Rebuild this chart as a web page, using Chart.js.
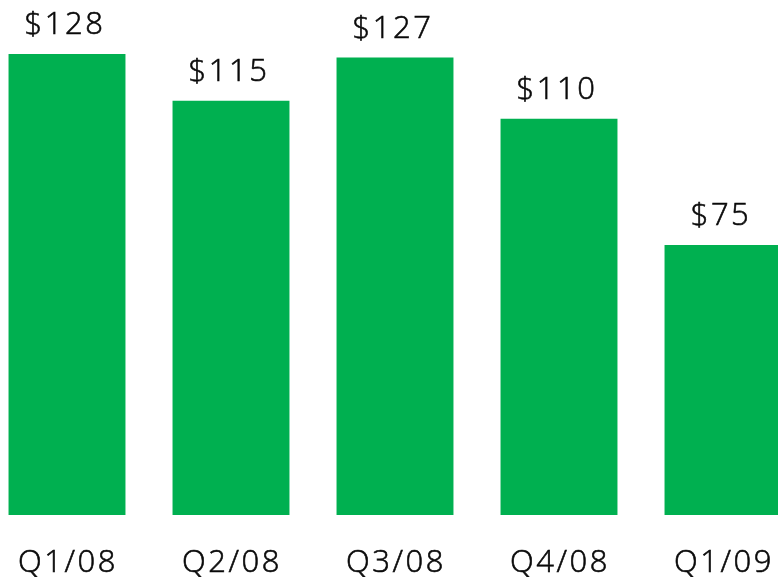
<!DOCTYPE html>
<html>
<head>
<meta charset="utf-8">
<script src="https://cdn.jsdelivr.net/npm/chart.js@4/dist/chart.umd.min.js"></script>
<style>
  html, body { margin: 0; padding: 0; background: #fff; overflow: hidden; }
  #wrap { position: absolute; left: -15px; top: 0; width: 820px; height: 577px; }
</style>
</head>
<body>
<div id="wrap"><canvas id="chart"></canvas></div>
<script>
var quarters = ["Q1/08", "Q2/08", "Q3/08", "Q4/08", "Q1/09"];
var revenue = [128, 115, 127, 110, 75];
var valueLabels = ["$128", "$115", "$127", "$110", "$75"];

// draws the $ labels over bars and the quarter names under them
var labelPlugin = {
    id: 'barLabels',
    afterDatasetsDraw: function(chart) {
        var ctx = chart.ctx;
        var meta = chart.getDatasetMeta(0);
        var xs = chart.scales.x;
        ctx.save();
        ctx.fillStyle = '#0a0a0a';
        ctx.strokeStyle = '#0a0a0a';
        ctx.lineWidth = 0.6;
        ctx.font = '300 31px "Open Sans"';
        ctx.letterSpacing = '2.5px';
        ctx.textAlign = 'center';
        ctx.textBaseline = 'alphabetic';
        meta.data.forEach(function(bar, i) {
            ctx.fillText(valueLabels[i], bar.x - 2, bar.y - 20);
            ctx.strokeText(valueLabels[i], bar.x - 2, bar.y - 20);
            ctx.fillText(quarters[i], xs.getPixelForValue(i) + 1, 572);
            ctx.strokeText(quarters[i], xs.getPixelForValue(i) + 1, 572);
        });
        ctx.restore();
    }
};

new Chart(document.getElementById("chart"), {
    type: 'bar',
    data: {
        labels: quarters,
        datasets: [{
            data: revenue,
            backgroundColor: '#00b050',
            barPercentage: 0.713,
            categoryPercentage: 1
        }]
    },
    options: {
        responsive: true,
        maintainAspectRatio: false,
        animation: false,
        layout: { padding: { top: 0, bottom: 62, left: 0, right: 0 } },
        plugins: { legend: { display: false }, tooltip: { enabled: false } },
        scales: {
            x: { display: false },
            y: { display: false, min: 0, max: 143 }
        }
    },
    plugins: [labelPlugin]
});
</script>
</body>
</html>
